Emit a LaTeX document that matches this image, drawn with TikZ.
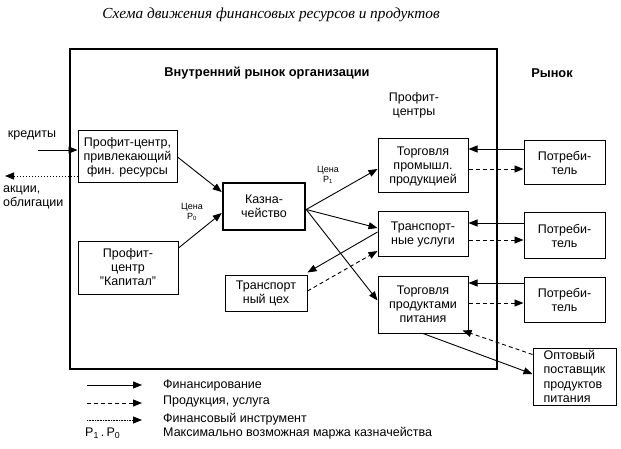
\documentclass[tikz,border=0pt]{standalone}
\usepackage{fontspec}
\setmainfont{Liberation Sans}
\newfontfamily\titlefont{Liberation Serif}
\usetikzlibrary{arrows.meta}

\begin{document}
\begin{tikzpicture}[x=1pt,y=-1pt,
        box/.style={draw,line width=1pt,inner sep=0pt,align=center,
            font=\fontsize{12.5}{14}\selectfont},
        small/.style={font=\fontsize{9}{10}\selectfont,align=center,inner sep=0pt},
        txt/.style={font=\fontsize{12.5}{14}\selectfont,inner sep=0pt},
        tip/.style={-{Triangle[length=9pt,width=7pt]}},
        money/.style={tip,line width=0.9pt},
        goods/.style={tip,line width=0.9pt,dash pattern=on 4pt off 3pt},
        papers/.style={tip,line width=0.9pt,dash pattern=on 1pt off 2pt}]
\useasboundingbox (0,0) rectangle (621,449);

\node[font=\titlefont\itshape\fontsize{15.3}{17}\selectfont] (title) at (271,15)
    {Схема движения финансовых ресурсов и продуктов};

% inner market frame
\draw[line width=1.2pt] (70,49) rectangle (497,369);
\node[txt,font=\bfseries\fontsize{12.8}{14}\selectfont] (inmarket) at (267,73)
    {Внутренний рынок организации};
\node[txt,font=\bfseries\fontsize{12.8}{14}\selectfont] (market) at (552,73) {Рынок};
\node[txt,align=center] (pcs) at (414,105) {Профит-\\центры};

\node[box,minimum width=99,minimum height=52] (fin) at (127.5,157)
    {Профит-центр,\\привлекающий\\фин. ресурсы};
\node[box,minimum width=100,minimum height=53] (cap) at (128,267.5)
    {Профит-\\центр\\"Капитал"};
\node[box,line width=2.5pt,minimum width=82,minimum height=47] (kazna) at (264,206.5)
    {Казна-\\чейство};
\node[box,minimum width=82,minimum height=36] (ceh) at (266,293)
    {Транспорт\\ный цех};
\node[box,minimum width=90,minimum height=54] (prom) at (423,166)
    {Торговля\\промышл.\\продукцией};
\node[box,minimum width=90,minimum height=44] (trans) at (423,234)
    {Транспорт-\\ные услуги};
\node[box,minimum width=90,minimum height=57] (prod) at (423,304.5)
    {Торговля\\продуктами\\питания};
\node[box,minimum width=81,minimum height=44] (cons1) at (564.5,163) {Потреби-\\тель};
\node[box,minimum width=81,minimum height=45] (cons2) at (564.5,235.5) {Потреби-\\тель};
\node[box,minimum width=81,minimum height=45] (cons3) at (564.5,299.5) {Потреби-\\тель};
\node[box,align=left,font=\fontsize{12.5}{14.5}\selectfont,minimum width=83,minimum height=57]
    (opt) at (574.5,376.5) {Оптовый\\поставщик\\продуктов\\питания};

% outside finance
\node[txt] (credits) at (32,135) {кредиты};
\node[txt,align=left,anchor=north west] (shares) at (3,186) {акции,\\облигации};
\coordinate (credin) at (38,150);
\coordinate (sharesout) at (5,176);
\draw[money] (credin) -- ([yshift=7]fin.west);
\draw[papers] ([yshift=-19]fin.west) -- (sharesout);

% treasury
\node[small] (p0) at (192,212) {Цена\\P\textsubscript{0}};
\node[small] (p1) at (328,175) {Цена\\P\textsubscript{1}};
\draw[money] (fin.east) -- ([yshift=14.5]kazna.west);
\draw[money] ([yshift=19.5]cap.east) -- ([yshift=-6.5]kazna.west);
\draw[money] ([yshift=-3]kazna.east) -- ([yshift=-3]prom.west);
\draw[money] ([yshift=-3]kazna.east) -- ([yshift=6]trans.west);
\draw[money] ([yshift=-3]kazna.east) -- ([yshift=4]prod.west);
\draw[money] ([yshift=2]trans.west) -- ([yshift=2]ceh.north east);
\draw[goods] ([yshift=2]ceh.east) -- ([yshift=-17]trans.west);

% market
\draw[money] ([yshift=14]cons1.west) -- ([yshift=14]cons1.west -| prom.east);
\draw[goods] ([yshift=-6]cons1.west -| prom.east) -- ([yshift=-6]cons1.west);
\draw[money] ([yshift=12.5]cons2.west) -- ([yshift=12.5]cons2.west -| trans.east);
\draw[goods] ([yshift=-4.5]cons2.west -| trans.east) -- ([yshift=-4.5]cons2.west);
\draw[money] ([yshift=16.5]cons3.west) -- ([yshift=16.5]cons3.west -| prod.east);
\draw[goods] ([yshift=-3.5]cons3.west -| prod.east) -- ([yshift=-3.5]cons3.west);
\draw[money] (prod.south) -- ([yshift=2.5]opt.west);
\draw[goods] ([yshift=-7]opt.north west) -- ([xshift=-6,yshift=3]prod.south east);

% legend
\coordinate (l1a) at (87,385);  \coordinate (l1b) at (142,385);
\coordinate (l2a) at (87,403);  \coordinate (l2b) at (142,403);
\coordinate (l3a) at (87,420);  \coordinate (l3b) at (142,420);
\draw[money] (l1a) -- (l1b);
\draw[goods] (l2a) -- (l2b);
\draw[papers,dash pattern=on 0.8pt off 0.8pt] (l3a) -- (l3b);
\node[txt,anchor=west] (lg1) at (163,385) {Финансирование};
\node[txt,anchor=west] (lg2) at (163,401) {Продукция, услуга};
\node[txt,anchor=west] (lg3) at (163,419) {Финансовый инструмент};
\node[txt,anchor=west] (lg4) at (163,433) {Максимально возможная маржа казначейства};
\node[txt,anchor=west] (margin) at (85,433) {P\textsubscript{1}\,.\,P\textsubscript{0}};
\end{tikzpicture}
\end{document}
